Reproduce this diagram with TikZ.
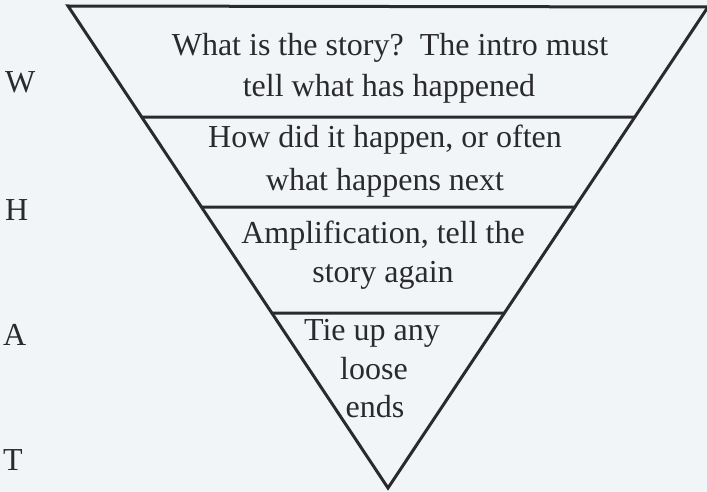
\documentclass[tikz,border=0pt]{standalone}
\usepackage{fontspec}
\setmainfont{Liberation Serif}
\definecolor{bgc}{RGB}{242,245,248}
\definecolor{ink}{RGB}{42,42,46}
\tikzset{
  edge/.style={draw=ink, line width=3pt, line cap=round, line join=miter},
  band/.style={font=\fontsize{32}{40}\selectfont, text=ink, inner sep=0pt, anchor=base},
  letter/.style={font=\fontsize{32}{40}\selectfont, text=ink, inner sep=0pt, anchor=base west}
}
\begin{document}
\begin{tikzpicture}[x=1pt,y=-1pt]
\fill[bgc] (0,0) rectangle (707,492);
\useasboundingbox (0,0) rectangle (707,492);
% triangle vertices
\coordinate (TL) at (68,6);
\coordinate (TR) at (708,7);
\coordinate (B) at (388,488);
\draw[edge] (TL) -- (TR) -- (B) -- cycle;
% band dividers
\coordinate (L1) at (intersection of TL--B and 0,117--10,117);
\coordinate (R1) at (intersection of TR--B and 0,117--10,117);
\coordinate (L2) at (intersection of TL--B and 0,207--10,207);
\coordinate (R2) at (intersection of TR--B and 0,207--10,207);
\coordinate (L3) at (intersection of TL--B and 0,313--10,313);
\coordinate (R3) at (intersection of TR--B and 0,313--10,313);
\draw[edge] (L1) -- (R1);
\draw[edge] (L2) -- (R2);
\draw[edge] (L3) -- (R3);
% band texts
\node[band] (t1a) at (390,56) {What is the story?\ \ The intro must};
\node[band] (t1b) at (389,97) {tell what has happened};
\node[band] (t2a) at (385,148) {How did it happen, or often};
\node[band] (t2b) at (385,190) {what happens next};
\node[band] (t3a) at (383,243) {Amplification, tell the};
\node[band] (t3b) at (383,282) {story again};
\node[band] (t4a) at (372,340) {Tie up any};
\node[band] (t4b) at (374,379) {loose};
\node[band] (t4c) at (375,417) {ends};
% side letters
\node[letter] (lw) at (5,93) {W};
\node[letter] (lh) at (5,220) {H};
\node[letter] (la) at (3,345) {A};
\node[letter] (lt) at (3,470) {T};
\end{tikzpicture}
\end{document}
